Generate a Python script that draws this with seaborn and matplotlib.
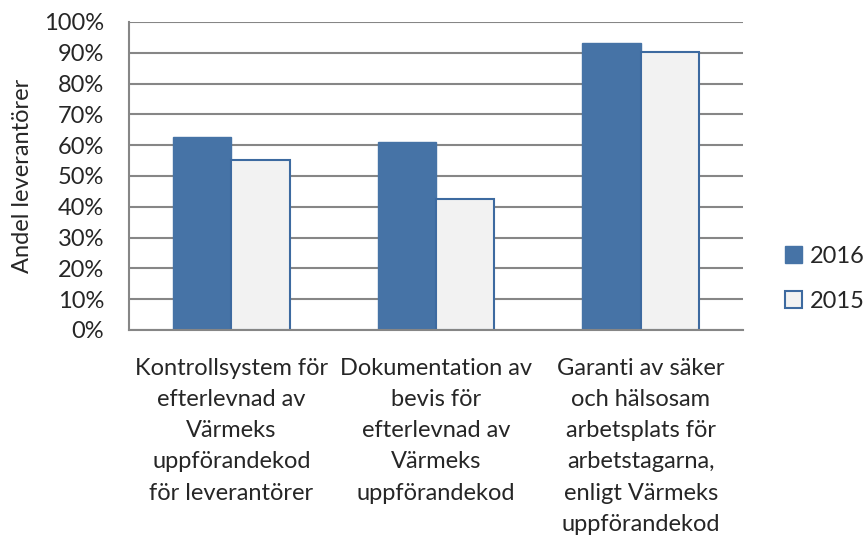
import seaborn as sns
import pandas as pd
import matplotlib.pyplot as plt
from matplotlib.ticker import PercentFormatter, FixedLocator

categories = [
    'Kontrollsystem för\nefterlevnad av\nVärmeks\nuppförandekod\nför leverantörer',
    'Dokumentation av\nbevis för\nefterlevnad av\nVärmeks\nuppförandekod',
    'Garanti av säker\noch hälsosam\narbetsplats för\narbetstagarna,\nenligt Värmeks\nuppförandekod',
]
years = ['2016', '2015']
values_2016 = [0.627, 0.610, 0.932]
values_2015 = [0.551, 0.425, 0.901]

df = pd.DataFrame({
    'Kategori': categories * 2,
    'År': [years[0]] * 3 + [years[1]] * 3,
    'Andel': values_2016 + values_2015,
})

sns.set_style('white')
plt.rcParams['font.family'] = ['Lato', 'DejaVu Sans']
fs = 17
plt.rcParams['font.size'] = fs

fig = plt.figure(figsize=(8.63, 5.4), dpi=100)
ax = fig.add_axes([129 / 863, 1 - 330 / 540, 614 / 863, 308 / 540])

colors = {'2016': '#4673A6', '2015': '#F2F2F2'}
sns.barplot(data=df, x='Kategori', y='Andel', hue='År', hue_order=years,
            palette=colors, width=0.57, gap=0, ax=ax, saturation=1)

# edges
edge = {'2016': ('#4673A6', 1), '2015': ('#3D6AA0', 1.5)}
for cont, yr in zip(ax.containers, years):
    for bar in cont:
        bar.set_edgecolor(edge[yr][0])
        bar.set_linewidth(edge[yr][1])

ax.set_ylim(0, 1)
ax.set_xlim(-0.5, 2.5)
ax.yaxis.set_major_locator(FixedLocator([i / 10 for i in range(11)]))
ax.yaxis.set_major_formatter(PercentFormatter(1.0, decimals=0))
ax.yaxis.grid(True, color='#868686', linewidth=1.5)
ax.set_axisbelow(True)

ax.xaxis.set_minor_locator(FixedLocator([-0.5, 0.5, 1.5, 2.5]))
ax.tick_params(axis='x', which='major', length=0, pad=20, labelsize=fs)
ax.tick_params(axis='x', which='minor', length=7, width=1.5, color='#868686', direction='out')
ax.tick_params(axis='y', length=8, width=1.5, color='#868686', direction='out', labelsize=fs, pad=10)
for lbl in ax.get_xticklabels():
    lbl.set_linespacing(1.6)
    lbl.set_ha('center')

for side in ['top', 'right']:
    ax.spines[side].set_visible(False)
for side in ['left', 'bottom']:
    ax.spines[side].set_color('#868686')
    ax.spines[side].set_linewidth(1.5)

ax.set_xlabel('')
ax.set_ylabel('Andel leverantörer', fontsize=fs, labelpad=8)

handles, labels = ax.get_legend_handles_labels()
leg = ax.legend(handles, labels, loc='center left', bbox_to_anchor=(0.068, 0.166),
                bbox_transform=ax.transAxes, frameon=False, fontsize=fs,
                handlelength=0.75, handleheight=0.75, borderpad=0, borderaxespad=0,
                labelspacing=1.0, handletextpad=0.3)
leg.set_bbox_to_anchor((1.068, 0.166), transform=ax.transAxes)
for h, yr in zip(leg.legend_handles, years):
    h.set_edgecolor(edge[yr][0])
    h.set_linewidth(edge[yr][1])

fig.savefig('out.png', dpi=100)
